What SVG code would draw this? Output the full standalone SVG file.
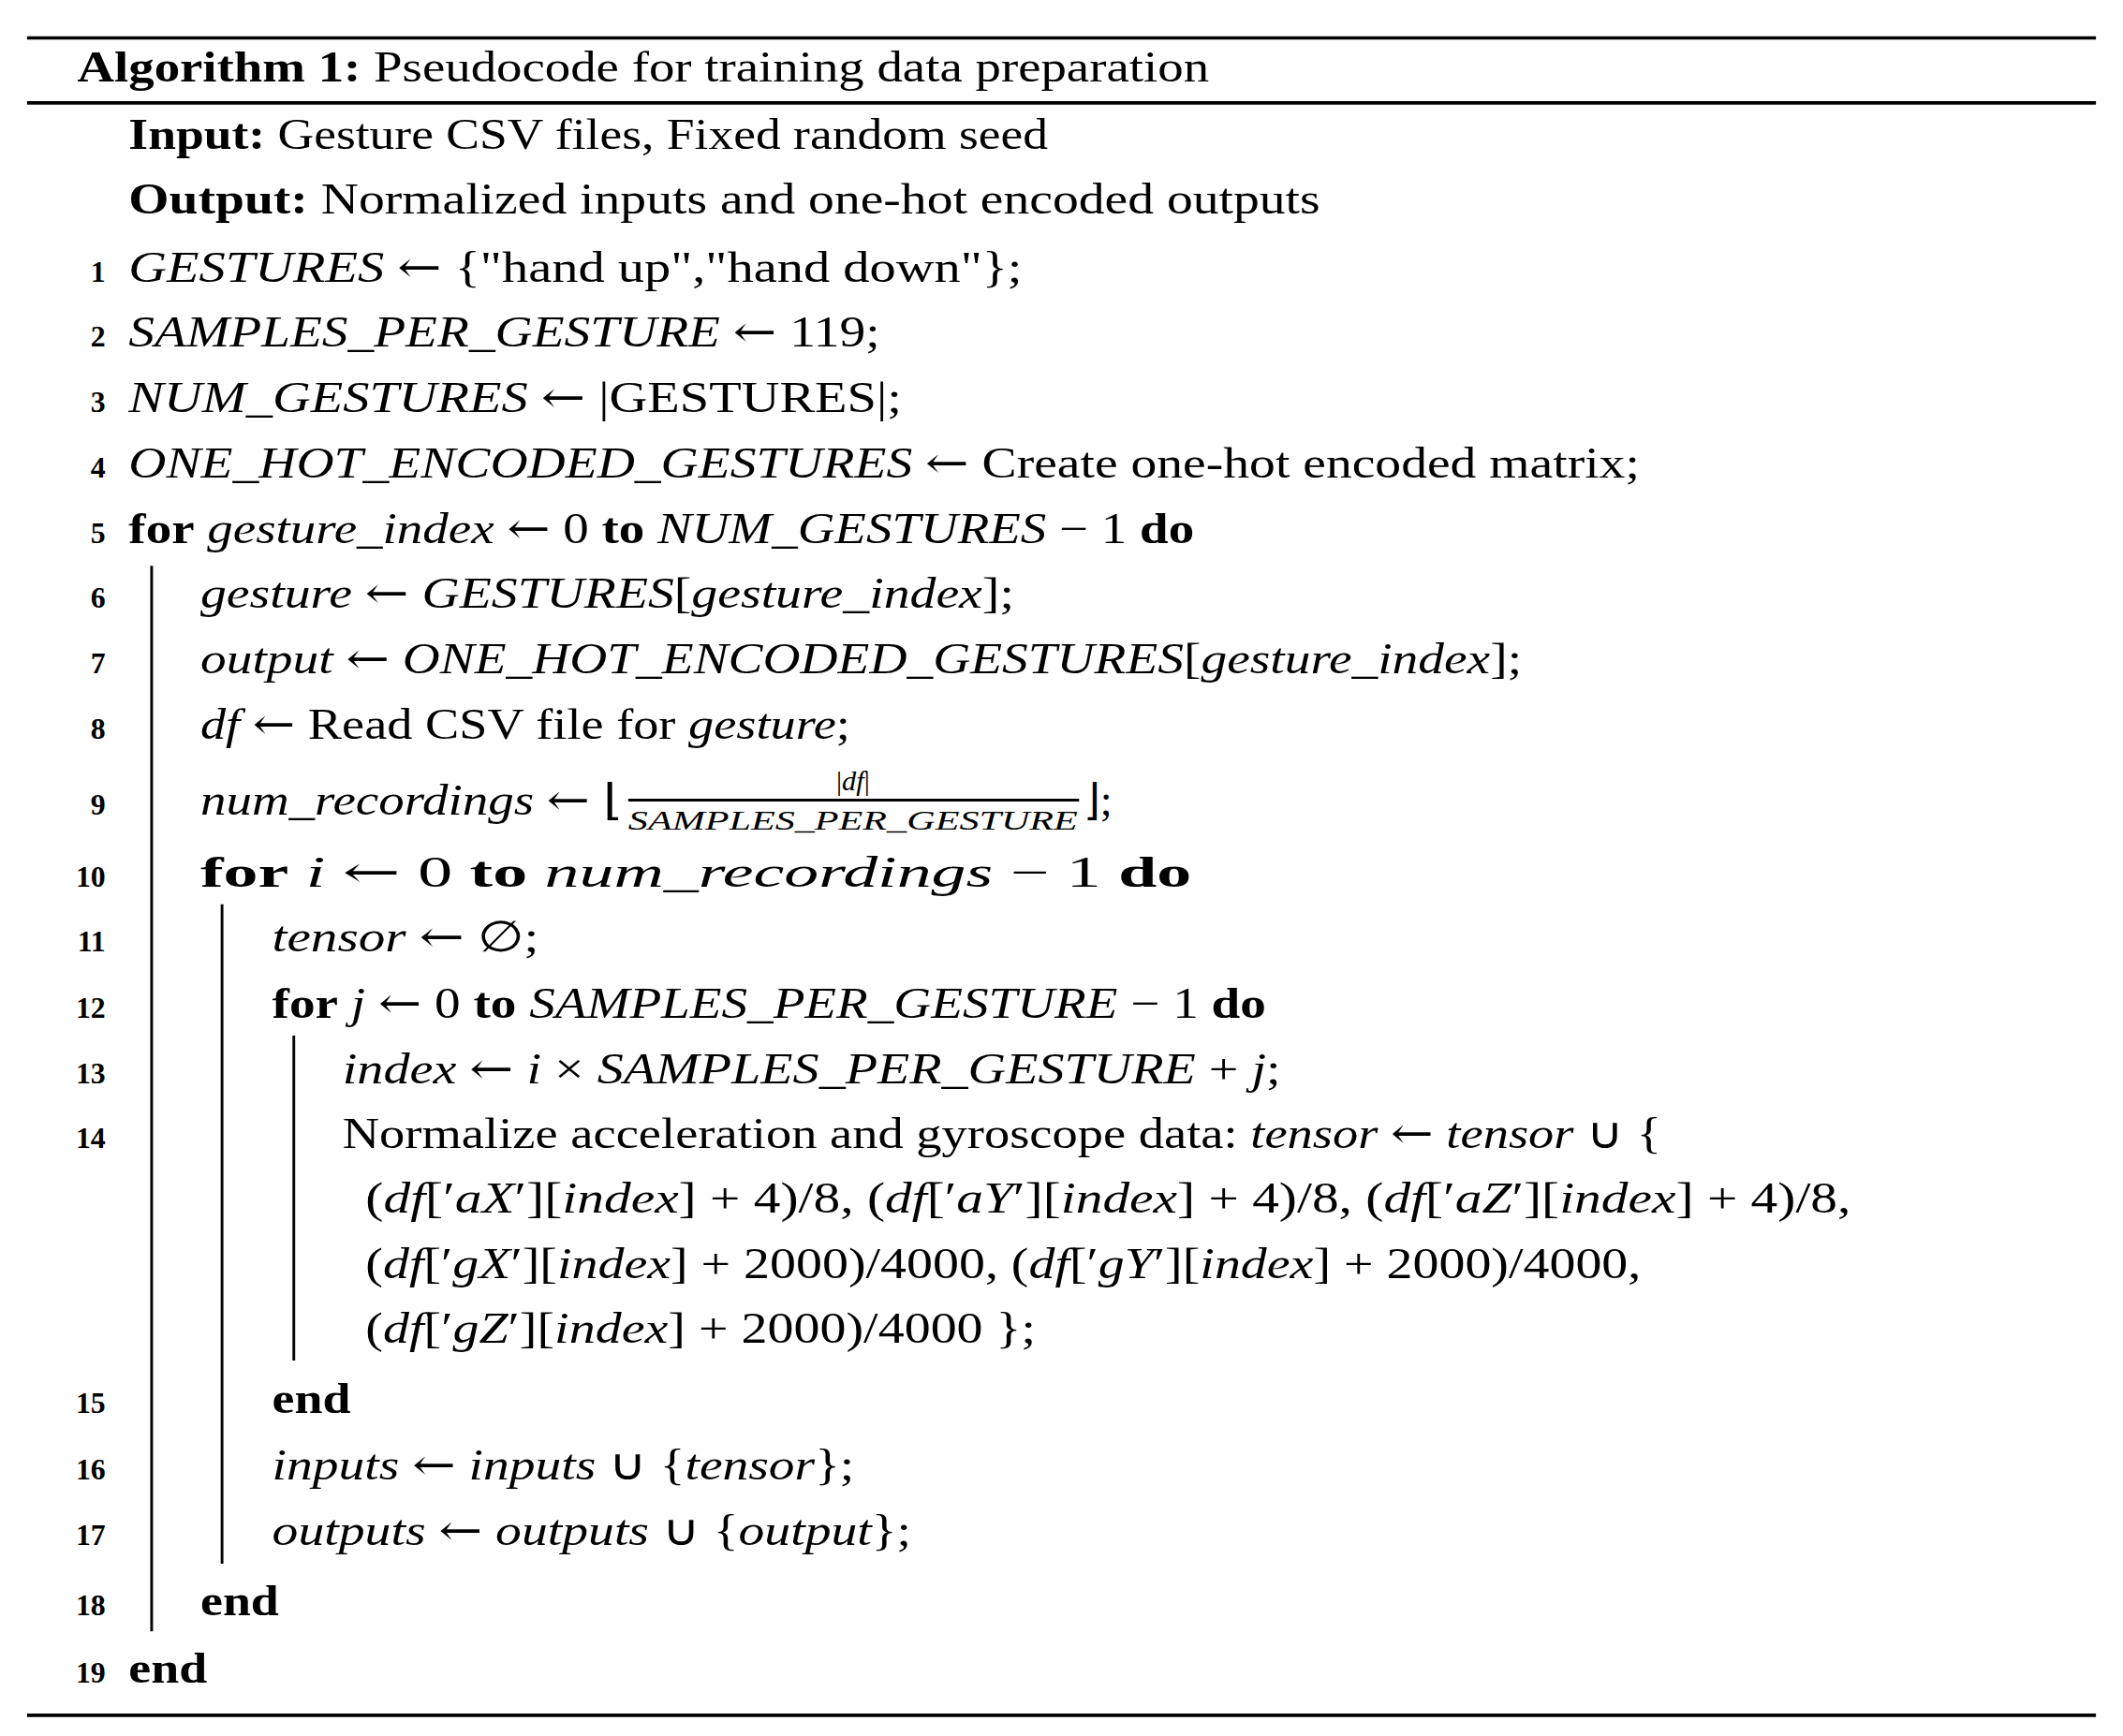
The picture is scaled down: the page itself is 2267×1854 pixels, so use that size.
<svg xmlns="http://www.w3.org/2000/svg" width="2267" height="1854" viewBox="0 0 2267 1854">
<style>
text{font-family:"Liberation Serif",serif;font-size:32px;fill:#000}
.n{font-size:22px;font-weight:bold;text-anchor:end}
.i{font-style:italic}
.b{font-weight:bold}
.a{font-family:"DejaVu Serif",serif;font-style:normal;font-weight:normal}
.s{font-size:21px}
.r{stroke:#000;stroke-width:2.5}
.v{stroke:#000;stroke-width:2}
</style>
<rect width="2267" height="1854" fill="#fff"/>
<g transform="scale(1.4458)">
<g id="rules">
<line class="r" x1="20" y1="28" x2="1548" y2="28"/>
<line class="r" x1="20" y1="76" x2="1548" y2="76" stroke-width="2"/>
<line class="r" x1="20" y1="1267" x2="1548" y2="1267"/>
<line class="v" x1="112" y1="418" x2="112" y2="1205"/>
<line class="v" x1="164" y1="668" x2="164" y2="1155"/>
<line class="v" x1="217" y1="765" x2="217" y2="1005"/>
</g>
<g id="text">
<text x="57" y="60" textLength="836" lengthAdjust="spacingAndGlyphs"><tspan class="b">Algorithm 1:</tspan> Pseudocode for training data preparation</text>
<text x="95" y="110" textLength="679" lengthAdjust="spacingAndGlyphs"><tspan class="b">Input:</tspan> Gesture CSV files, Fixed random seed</text>
<text x="95" y="158" textLength="880" lengthAdjust="spacingAndGlyphs"><tspan class="b">Output:</tspan> Normalized inputs and one-hot encoded outputs</text>
<text class="n" x="78" y="208">1</text><text x="95" y="208" textLength="660" lengthAdjust="spacingAndGlyphs"><tspan class="i">GESTURES</tspan> <tspan class="a">←</tspan> {"hand up","hand down"};</text>
<text class="n" x="78" y="256">2</text><text x="95" y="256" textLength="555" lengthAdjust="spacingAndGlyphs"><tspan class="i">SAMPLES_PER_GESTURE</tspan> <tspan class="a">←</tspan> 119;</text>
<text class="n" x="78" y="304">3</text><text x="95" y="304" textLength="571" lengthAdjust="spacingAndGlyphs"><tspan class="i">NUM_GESTURES</tspan> <tspan class="a">←</tspan> |GESTURES|;</text>
<text class="n" x="78" y="353">4</text><text x="95" y="353" textLength="1116" lengthAdjust="spacingAndGlyphs"><tspan class="i">ONE_HOT_ENCODED_GESTURES</tspan> <tspan class="a">←</tspan> Create one-hot encoded matrix;</text>
<text class="n" x="78" y="401">5</text><text x="95" y="401" textLength="787" lengthAdjust="spacingAndGlyphs"><tspan class="b">for</tspan> <tspan class="i">gesture_index</tspan> <tspan class="a">←</tspan> 0 <tspan class="b">to</tspan> <tspan class="i">NUM_GESTURES</tspan> − 1 <tspan class="b">do</tspan></text>
<text class="n" x="78" y="449">6</text><text x="148" y="449" textLength="601" lengthAdjust="spacingAndGlyphs"><tspan class="i">gesture</tspan> <tspan class="a">←</tspan> <tspan class="i">GESTURES</tspan>[<tspan class="i">gesture_index</tspan>];</text>
<text class="n" x="78" y="497">7</text><text x="148" y="497" textLength="976" lengthAdjust="spacingAndGlyphs"><tspan class="i">output</tspan> <tspan class="a">←</tspan> <tspan class="i">ONE_HOT_ENCODED_GESTURES</tspan>[<tspan class="i">gesture_index</tspan>];</text>
<text class="n" x="78" y="546">8</text><text x="148" y="546" textLength="480" lengthAdjust="spacingAndGlyphs"><tspan class="i">df</tspan> <tspan class="a">←</tspan> Read CSV file for <tspan class="i">gesture</tspan>;</text>
<text class="n" x="78" y="602">9</text><text x="148" y="602" textLength="312" lengthAdjust="spacingAndGlyphs"><tspan class="i">num_recordings</tspan> <tspan class="a">←</tspan> ⌊</text>
<text class="s" x="630" y="584" text-anchor="middle">|<tspan class="i">df</tspan>|</text>
<line class="v" x1="464" y1="591" x2="797" y2="591" stroke-width="1.3"/>
<text class="s i" x="630" y="613" text-anchor="middle" textLength="332" lengthAdjust="spacingAndGlyphs">SAMPLES_PER_GESTURE</text>
<text x="800" y="602">⌋;</text>
<text class="n" x="78" y="655">10</text><text x="148" y="655" textLength="732" lengthAdjust="spacingAndGlyphs"><tspan class="b">for</tspan> <tspan class="i">i</tspan> <tspan class="a">←</tspan> 0 <tspan class="b">to</tspan> <tspan class="i">num_recordings</tspan> − 1 <tspan class="b">do</tspan></text>
<text class="n" x="78" y="703">11</text><text x="201" y="703" textLength="197" lengthAdjust="spacingAndGlyphs"><tspan class="i">tensor</tspan> <tspan class="a">←</tspan> ∅;</text>
<text class="n" x="78" y="752">12</text><text x="201" y="752" textLength="734" lengthAdjust="spacingAndGlyphs"><tspan class="b">for</tspan> <tspan class="i">j</tspan> <tspan class="a">←</tspan> 0 <tspan class="b">to</tspan> <tspan class="i">SAMPLES_PER_GESTURE</tspan> − 1 <tspan class="b">do</tspan></text>
<text class="n" x="78" y="800">13</text><text x="253" y="800" textLength="693" lengthAdjust="spacingAndGlyphs"><tspan class="i">index</tspan> <tspan class="a">←</tspan> <tspan class="i">i</tspan> × <tspan class="i">SAMPLES_PER_GESTURE</tspan> + <tspan class="i">j</tspan>;</text>
<text class="n" x="78" y="848">14</text><text x="253" y="848" textLength="974" lengthAdjust="spacingAndGlyphs">Normalize acceleration and gyroscope data: <tspan class="i">tensor</tspan> <tspan class="a">←</tspan> <tspan class="i">tensor</tspan> ∪ {</text>
<text x="270" y="896" textLength="1097" lengthAdjust="spacingAndGlyphs">(<tspan class="i">df</tspan>[′<tspan class="i">aX</tspan>′][<tspan class="i">index</tspan>] + 4)/8, (<tspan class="i">df</tspan>[′<tspan class="i">aY</tspan>′][<tspan class="i">index</tspan>] + 4)/8, (<tspan class="i">df</tspan>[′<tspan class="i">aZ</tspan>′][<tspan class="i">index</tspan>] + 4)/8,</text>
<text x="270" y="944" textLength="942" lengthAdjust="spacingAndGlyphs">(<tspan class="i">df</tspan>[′<tspan class="i">gX</tspan>′][<tspan class="i">index</tspan>] + 2000)/4000, (<tspan class="i">df</tspan>[′<tspan class="i">gY</tspan>′][<tspan class="i">index</tspan>] + 2000)/4000,</text>
<text x="270" y="992" textLength="495" lengthAdjust="spacingAndGlyphs">(<tspan class="i">df</tspan>[′<tspan class="i">gZ</tspan>′][<tspan class="i">index</tspan>] + 2000)/4000 };</text>
<text class="n" x="78" y="1044">15</text><text class="b" x="201" y="1044" textLength="58" lengthAdjust="spacingAndGlyphs">end</text>
<text class="n" x="78" y="1093">16</text><text x="201" y="1093" textLength="430" lengthAdjust="spacingAndGlyphs"><tspan class="i">inputs</tspan> <tspan class="a">←</tspan> <tspan class="i">inputs</tspan> ∪ {<tspan class="i">tensor</tspan>};</text>
<text class="n" x="78" y="1141">17</text><text x="201" y="1141" textLength="472" lengthAdjust="spacingAndGlyphs"><tspan class="i">outputs</tspan> <tspan class="a">←</tspan> <tspan class="i">outputs</tspan> ∪ {<tspan class="i">output</tspan>};</text>
<text class="n" x="78" y="1193">18</text><text class="b" x="148" y="1193" textLength="58" lengthAdjust="spacingAndGlyphs">end</text>
<text class="n" x="78" y="1243">19</text><text class="b" x="95" y="1243" textLength="58" lengthAdjust="spacingAndGlyphs">end</text>
</g>
</g>
</svg>
